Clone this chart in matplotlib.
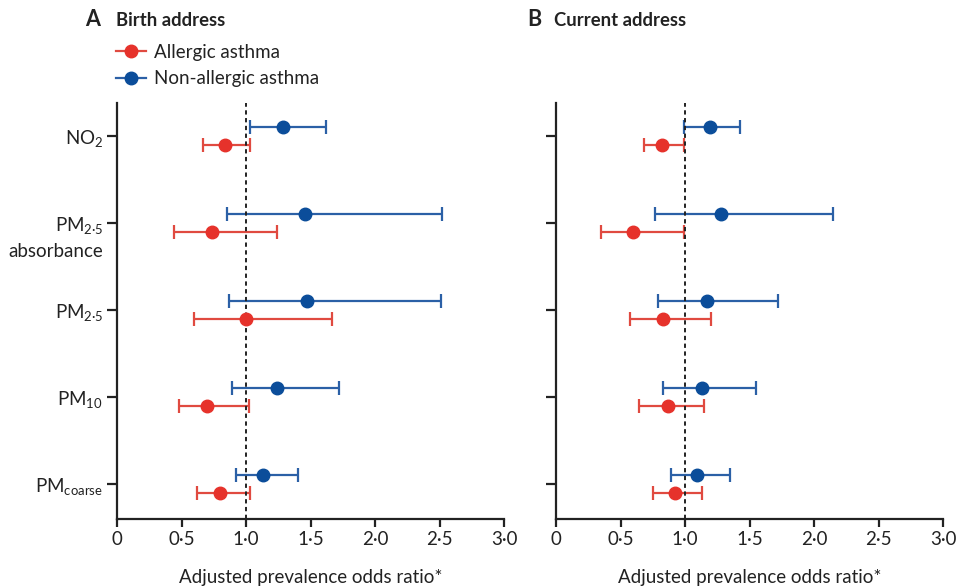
import matplotlib
matplotlib.use("Agg")
import matplotlib.pyplot as plt
import matplotlib.transforms as mtransforms
from matplotlib.lines import Line2D

plt.rcParams['font.family'] = ['Lato', 'DejaVu Sans']
plt.rcParams['mathtext.fontset'] = 'custom'
plt.rcParams['mathtext.rm'] = 'Lato'
plt.rcParams['mathtext.it'] = 'Lato:italic'
plt.rcParams['mathtext.bf'] = 'Lato:bold'

# Pollutants, listed top to bottom
pollutants = ["NO$_2$", "PM$_{2·5}$", "PM$_{2·5}$", "PM$_{10}$", "PM$_{\\mathrm{coarse}}$"]
extra_line = "absorbance"

# Birth address: odds ratios with 95% CI
birth_allergic = [0.84, 0.74, 1.00, 0.70, 0.80]
birth_allergic_lo = [0.67, 0.44, 0.60, 0.48, 0.62]
birth_allergic_hi = [1.03, 1.24, 1.67, 1.02, 1.03]
birth_nonallergic = [1.29, 1.46, 1.47, 1.24, 1.13]
birth_nonallergic_lo = [1.03, 0.85, 0.87, 0.89, 0.92]
birth_nonallergic_hi = [1.62, 2.52, 2.51, 1.72, 1.40]

# Current address: odds ratios with 95% CI
current_allergic = [0.82, 0.60, 0.83, 0.87, 0.92]
current_allergic_lo = [0.68, 0.35, 0.57, 0.64, 0.75]
current_allergic_hi = [0.99, 0.99, 1.20, 1.15, 1.13]
current_nonallergic = [1.19, 1.28, 1.17, 1.13, 1.09]
current_nonallergic_lo = [0.99, 0.77, 0.79, 0.83, 0.89]
current_nonallergic_hi = [1.43, 2.15, 1.72, 1.55, 1.35]

x_ticks = [0, 0.5, 1.0, 1.5, 2.0, 2.5, 3.0]
x_ticklabels = ["0", "0·5", "1·0", "1·5", "2·0", "2·5", "3·0"]
series_names = ["Allergic asthma", "Non-allergic asthma"]

RED = "#e6322b"
RED_LINE = "#e04a40"
BLUE = "#0b4d9a"
BLUE_LINE = "#2b60a6"
INK = "#222222"

W, H = 956, 586
fig = plt.figure(figsize=(W / 100, H / 100), dpi=100)

ax_a = fig.add_axes([117 / W, 1 - 519 / H, 387 / W, 416 / H])
ax_b = fig.add_axes([556 / W, 1 - 519 / H, 387 / W, 416 / H])

n = len(pollutants)
ypos = [n - 1 - i for i in range(n)]
offset = 0.1


def draw_panel(ax, allergic, a_lo, a_hi, nonallergic, n_lo, n_hi, show_labels):
    y_all = [y - offset for y in ypos]
    y_non = [y + offset for y in ypos]
    for vals, lo, hi, yy, lc in ((allergic, a_lo, a_hi, y_all, RED_LINE),
                                 (nonallergic, n_lo, n_hi, y_non, BLUE_LINE)):
        xerr = [[v - l for v, l in zip(vals, lo)], [h - v for v, h in zip(vals, hi)]]
        ax.errorbar(vals, yy, xerr=xerr, fmt='none', ecolor=lc, elinewidth=1.6,
                    capsize=5, capthick=1.6, zorder=2)
    ax.axvline(1.0, color=INK, lw=1.4, ls=(0, (2.2, 1.8)), zorder=3)
    ax.plot(allergic, y_all, 'o', color=RED, ms=9, mec=RED, zorder=4)
    ax.plot(nonallergic, y_non, 'o', color=BLUE, ms=9, mec=BLUE, zorder=4)

    ax.set_xlim(0, 3.0)
    ax.set_ylim(-0.40, n - 1 + 0.38)
    ax.set_xticks(x_ticks)
    ax.set_xticklabels(x_ticklabels)
    ax.set_yticks(ypos)
    if show_labels:
        ax.set_yticklabels(pollutants)
        ax.text(-14 / 387, ypos[1] - 0.33, extra_line, transform=ax.get_yaxis_transform(),
                ha='right', va='center', fontsize=13.5, color=INK)
    else:
        ax.set_yticklabels([])

    for side in ("top", "right"):
        ax.spines[side].set_visible(False)
    for side in ("left", "bottom"):
        ax.spines[side].set_linewidth(1.6)
        ax.spines[side].set_color(INK)
    ax.tick_params(axis='y', length=7, width=1.6, color=INK, pad=3, labelsize=13.5, labelcolor=INK)
    ax.tick_params(axis='x', length=5.5, width=1.6, color=INK, pad=3, labelsize=13.5, labelcolor=INK)
    ax.set_xlabel("Adjusted prevalence odds ratio*", fontsize=13.5, color=INK, labelpad=15)


draw_panel(ax_a, birth_allergic, birth_allergic_lo, birth_allergic_hi,
           birth_nonallergic, birth_nonallergic_lo, birth_nonallergic_hi, True)
draw_panel(ax_b, current_allergic, current_allergic_lo, current_allergic_hi,
           current_nonallergic, current_nonallergic_lo, current_nonallergic_hi, False)

# Panel headings
fig.text(85 / W, 1 - 26 / H, "A", fontsize=15.5, fontweight='bold', color=INK, va='baseline')
fig.text(116 / W, 1 - 26 / H, "Birth address", fontsize=13.3, fontweight='bold', color=INK, va='baseline')
fig.text(527 / W, 1 - 26 / H, "B", fontsize=15.5, fontweight='bold', color=INK, va='baseline')
fig.text(554 / W, 1 - 26 / H, "Current address", fontsize=13.3, fontweight='bold', color=INK, va='baseline')

handles = [
    Line2D([], [], color=RED_LINE, lw=1.6, marker='o', ms=9, mfc=RED, mec=RED),
    Line2D([], [], color=BLUE_LINE, lw=1.6, marker='o', ms=9, mfc=BLUE, mec=BLUE),
]
fig.legend(handles, series_names, loc='upper left', bbox_to_anchor=(116 / W, 1 - 44 / H),
           bbox_transform=fig.transFigure, frameon=False, fontsize=13.5, handlelength=1.6,
           handletextpad=0.45, labelspacing=0.5, borderpad=0, borderaxespad=0, labelcolor=INK)

fig.savefig("out.png", dpi=100)
